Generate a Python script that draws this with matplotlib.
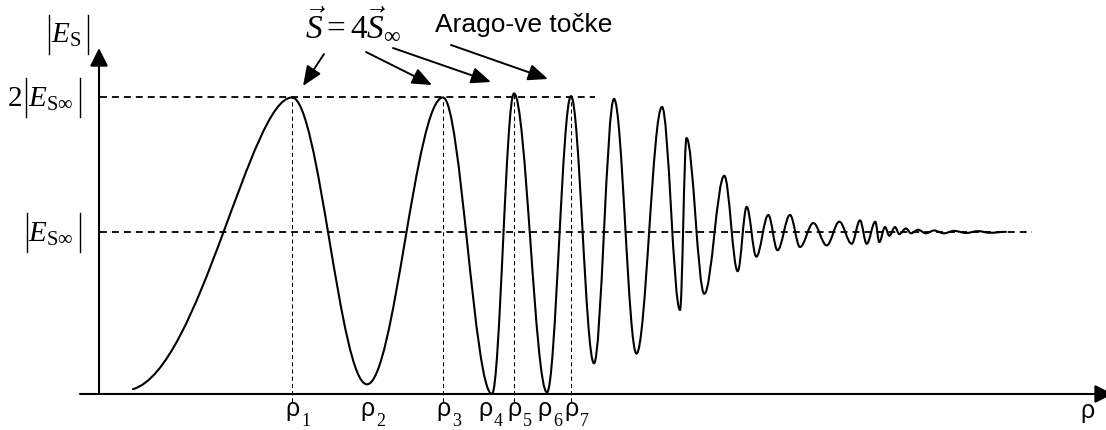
import numpy as np
import matplotlib
matplotlib.use("Agg")
import matplotlib.pyplot as plt
import matplotlib.transforms as mtransforms
from matplotlib.lines import Line2D
from matplotlib.path import Path
from matplotlib.patches import PathPatch

plt.rcParams.update({
    "mathtext.fontset": "custom",
    "mathtext.rm": "Liberation Serif",
    "mathtext.it": "Liberation Serif:italic",
    "mathtext.bf": "Liberation Serif:bold",
    "lines.scale_dashes": False,
})

# Turning points of |E_S| along rho (the first entry is where the curve starts)
rho_nodes = [0.34, 1.93, 2.68, 3.44, 3.93, 4.15, 4.48, 4.72, 4.95, 5.15,
             5.375, 5.63, 5.81, 5.875, 6.053, 6.253, 6.387, 6.477, 6.573, 6.693,
             6.785, 6.91, 7.01, 7.143, 7.277, 7.403, 7.527, 7.61, 7.677, 7.763,
             7.803, 7.86, 7.903, 7.96, 8.003, 8.07, 8.12, 8.19, 8.27, 8.35,
             8.45, 8.55, 8.67, 8.79, 8.91, 9.07]
e_nodes = [0.03, 2.0, 0.06, 2.0, 0.0, 2.03, 0.01, 2.01, 0.19, 1.99,
           0.25, 1.93, 0.52, 1.70, 0.62, 1.42, 0.76, 1.19, 0.85, 1.13,
           0.89, 1.13, 0.91, 1.07, 0.92, 1.08, 0.93, 1.09, 0.93, 1.08,
           0.94, 1.04, 0.98, 1.04, 0.99, 1.03, 0.995, 1.02, 0.995, 1.015,
           0.995, 1.012, 0.997, 1.01, 0.998, 1.005]

# Marked positions rho_1 ... rho_7 (nodes 1..7 of the curve)
mark_names = ["1", "2", "3", "4", "5", "6", "7"]
rho_marks = rho_nodes[1:8]
e_marks = e_nodes[1:8]

# Reference levels |E_Sinf| and 2|E_Sinf|
level_values = [1.0, 2.0]
level_prefix = ["", "2"]
level_ends = [9.33, 4.96]

# Sketch-style vertical axis: the band above |E_Sinf| is drawn compressed
UPPER = 0.836


def fwd(e):
    e = np.asarray(e, dtype=float)
    return np.where(e <= 1.0, e, 1.0 + UPPER * (e - 1.0))


def inv(d):
    d = np.asarray(d, dtype=float)
    return np.where(d <= 1.0, d, 1.0 + (d - 1.0) / UPPER)


W, H = 1106, 430
fig = plt.figure(figsize=(W / 100, H / 100), dpi=100)
ax = fig.add_axes([0, 0, 1, 1])
ax.set_yscale("function", functions=(fwd, inv))
ax.set_xlim(-0.99, 10.07)
ax.set_ylim(-0.223, float(inv(2.4396)))
ax.axis("off")

# pixel-style layout transform (origin top-left)
pix = mtransforms.Affine2D().scale(1 / W, -1 / H).translate(0, 1) + fig.transFigure


def level_px(val):
    """Vertical pixel position (from the top) of a data level."""
    return H - ax.transData.transform((0.0, val))[1]


def abs_bar(x, yc, half=19.5):
    fig.add_artist(Line2D([x, x], [yc - half, yc + half], transform=pix,
                          color="black", lw=1.0))


# --- the curve: smooth Bezier arcs between successive turning points
K = 0.36
verts = [(rho_nodes[0], e_nodes[0])]
codes = [Path.MOVETO]
for i in range(len(rho_nodes) - 1):
    x0, y0 = rho_nodes[i], e_nodes[i]
    x1, y1 = rho_nodes[i + 1], e_nodes[i + 1]
    dx = x1 - x0
    if i == 0:
        c1 = (x0 + 0.42 * dx, y0 + 0.12)
        c2 = (x1 - 0.26 * dx, y1)
    else:
        c1 = (x0 + K * dx, y0)
        c2 = (x1 - K * dx, y1)
    verts += [c1, c2, (x1, y1)]
    codes += [Path.CURVE4] * 3
ax.add_patch(PathPatch(Path(verts, codes), fill=False, lw=1.5, ec="black",
                       capstyle="round", joinstyle="round", zorder=3))

# --- axes with arrow heads
axis_arrow = dict(arrowstyle="-|>,head_length=1.1,head_width=0.55", color="black",
                  lw=1.5, shrinkA=0, shrinkB=0, mutation_scale=10)
ax.annotate("", xy=(0, float(inv(2.142))), xytext=(0, 0), arrowprops=axis_arrow,
            annotation_clip=False)
ax.annotate("", xy=(10.14, 0), xytext=(-0.19, 0), arrowprops=axis_arrow,
            annotation_clip=False)

# --- reference levels with their |...| labels
for val, pre, end in zip(level_values, level_prefix, level_ends):
    ax.plot([0.01, end], [val, val], color="black", lw=1.3, dashes=(5, 3.6), zorder=2)
    yc = level_px(val)
    x_left = 25.5 if pre else 26.5
    abs_bar(x_left, yc)
    abs_bar(79.5, yc)
    if pre:
        fig.text(x_left - 3, yc + 9, pre, transform=pix, ha="right", va="baseline",
                 fontsize=21, family="Liberation Serif")
    fig.text(x_left + 2, yc + 9, r"$E_{\mathrm{S}\infty}$", transform=pix,
             ha="left", va="baseline", fontsize=21)

# --- marked rho positions
label_nudge = [0, 0, 0, -5, 0, -2, 0]
for k, (r, e, name) in enumerate(zip(rho_marks, e_marks, mark_names)):
    if k % 2 == 0:
        ax.plot([r, r], [-0.05, e], color="black", lw=0.75, dashes=(3, 2.2), zorder=2)
    ax.annotate("\u03c1", xy=(r, 0), xytext=(label_nudge[k], -15.6),
                textcoords="offset points", ha="center", va="baseline",
                fontsize=18, family="Liberation Sans")
    ax.annotate(name, xy=(r, 0), xytext=(label_nudge[k] + 6.5, -23.0),
                textcoords="offset points", ha="left", va="baseline",
                fontsize=13, family="Liberation Serif")

# --- axis titles
abs_bar(48.5, 34)
abs_bar(87.5, 34)
fig.text(51, 43, r"$E_{\mathrm{S}}$", transform=pix, ha="left", va="baseline",
         fontsize=21)
fig.text(1087, 418, "\u03c1", transform=pix, ha="center", va="baseline",
         fontsize=18, family="Liberation Sans")

# --- annotations
fig.text(305, 37, r"$\vec{S}=4\vec{S}_{\infty}$", transform=pix,
         ha="left", va="baseline", fontsize=24)
fig.text(435, 32, "Arago-ve točke", transform=pix, ha="left", va="baseline",
         fontsize=19, family="Liberation Sans")

note_arrow = dict(arrowstyle="-|>,head_length=1.2,head_width=0.5", color="black",
                  lw=1.4, shrinkA=0, shrinkB=0, mutation_scale=10)
for tail, tip in [((324, 54), (303, 86)), ((366, 52), (432, 85)),
                  ((393, 48), (491, 82)), ((451, 45), (548, 79))]:
    ax.annotate("", xy=tip, xycoords=pix, xytext=tail, textcoords=pix,
                arrowprops=note_arrow)

fig.savefig("out.png", dpi=100)
